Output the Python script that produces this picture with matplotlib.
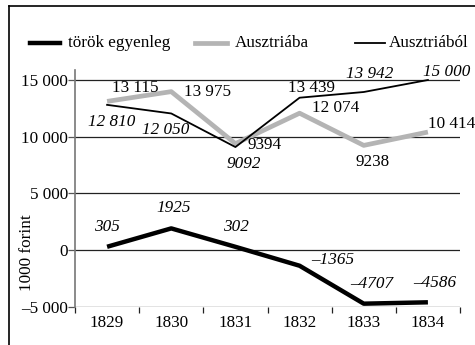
import matplotlib
matplotlib.use("Agg")
import matplotlib.pyplot as plt
from matplotlib.lines import Line2D

years = ["1829", "1830", "1831", "1832", "1833", "1834"]
torok = [305, 1925, 302, -1365, -4707, -4586]
ausztriaba = [13115, 13975, 9394, 12074, 9238, 10414]
ausztriabol = [12810, 12050, 9092, 13439, 13942, 15000]

torok_labels = ["305", "1925", "302", "–1365", "–4707", "–4586"]
ba_labels = ["13 115", "13 975", "9394", "12 074", "9238", "10 414"]
bol_labels = ["12 810", "12 050", "9092", "13 439", "13 942", "15 000"]

yticks = [-5000, 0, 5000, 10000, 15000]
ytick_labels = ["–5 000", "0", "5 000", "10 000", "15 000"]

plt.rcParams['font.family'] = ['Liberation Serif', 'DejaVu Serif']
FS = 12.3

W, H = 475, 345
fig = plt.figure(figsize=(W / 100, H / 100), dpi=100)
ax = fig.add_axes([75 / W, 1 - 307 / H, (460 - 75) / W, (307 - 70) / H])

x = [i + 0.5 for i in range(len(years))]
GRAY = "#b4b4b4"

for yv in yticks:
    ax.axhline(yv, color="#222222", lw=0.9, zorder=1)

ax.plot(x, ausztriaba, color=GRAY, lw=3.4, solid_capstyle="butt", zorder=3)
ax.plot(x, ausztriabol, color="black", lw=1.3, zorder=4)
ax.plot(x, torok, color="black", lw=3.2, solid_capstyle="butt", zorder=5)

ax.set_xlim(0, 6)
ax.set_ylim(-5000, 15880)
ax.set_xticks(range(7))
ax.set_xticklabels([])
ax.set_xticks(x, minor=True)
ax.set_xticklabels(years, minor=True, fontsize=FS)
ax.tick_params(axis="x", which="major", direction="out", length=4, width=0.9, color="#222222")
ax.tick_params(axis="x", which="minor", length=0, pad=6)
ax.set_yticks(yticks)
ax.set_yticklabels(ytick_labels, fontsize=FS)
ax.tick_params(axis="y", direction="out", length=5, width=0.9, color="#555555", pad=0)

for s in ["top", "right", "bottom"]:
    ax.spines[s].set_visible(False)
ax.spines["left"].set_color("#777777")
ax.spines["left"].set_linewidth(1.2)

k = 0.72  # px -> points


def lab(xi, yi, text, dx, dy, italic):
    ax.annotate(text, (xi, yi), xytext=(dx * k, dy * k), textcoords="offset points",
                ha="center", va="center", fontsize=FS,
                style="italic" if italic else "normal", zorder=6)


ba_off = [(28, 13), (36, 0), (29, -1), (36, 5), (9, -17), (24, 8)]
bol_off = [(5, -17), (-6, -17), (8, -17), (12, 10), (6, 18), (19, 8)]
bol_it = [True, True, True, False, True, True]
tor_off = [(0, 19.5), (2, 20), (1, 20), (33, 6), (8, 20), (7, 19)]

for i in range(6):
    lab(x[i], ausztriaba[i], ba_labels[i], *ba_off[i], False)
    lab(x[i], ausztriabol[i], bol_labels[i], *bol_off[i], bol_it[i])
    lab(x[i], torok[i], torok_labels[i], *tor_off[i], True)

# legend
ly = 1 - 43 / H
fig.add_artist(Line2D([30 / W, 60 / W], [ly, ly], color="black", lw=3.2))
fig.text(68 / W, ly, "török egyenleg", fontsize=FS, va="center", ha="left")
fig.add_artist(Line2D([195 / W, 227 / W], [ly, ly], color=GRAY, lw=3.4))
fig.text(235 / W, ly, "Ausztriába", fontsize=FS, va="center", ha="left")
fig.add_artist(Line2D([355 / W, 385 / W], [ly, ly], color="black", lw=1.3))
fig.text(389 / W, ly, "Ausztriából", fontsize=FS, va="center", ha="left")

fig.text(27 / W, 1 - 253 / H, "1000 forint", rotation=90, fontsize=FS, va="center", ha="center")

# frame
fig.add_artist(Line2D([9 / W, 1.0], [1 - 6 / H, 1 - 6 / H], color="black", lw=1.2))
fig.add_artist(Line2D([9 / W, 9 / W], [0, 1 - 6 / H], color="black", lw=1.2))

fig.savefig("out.png", dpi=100)
